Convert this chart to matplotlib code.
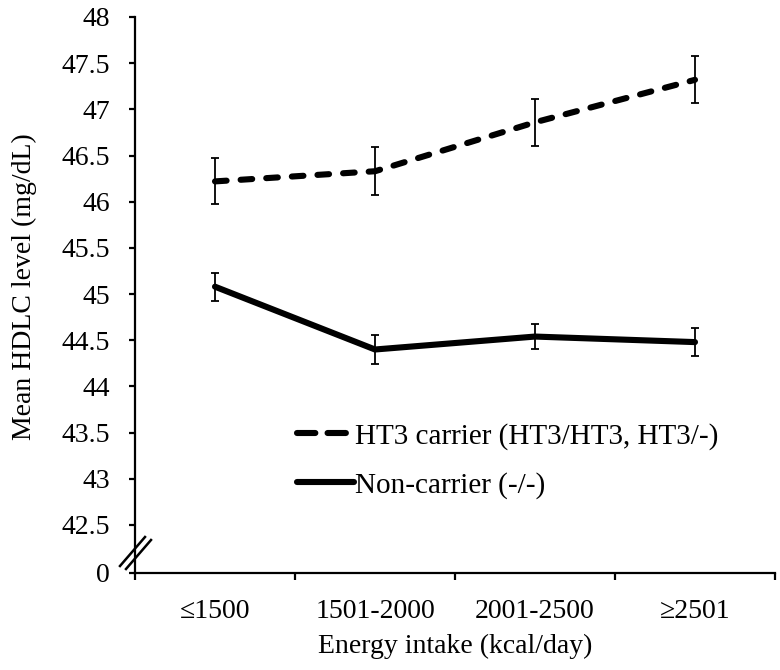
import matplotlib
matplotlib.use("Agg")
import matplotlib.pyplot as plt
from matplotlib.lines import Line2D
import numpy as np

categories = ["\u22641500", "1501-2000", "2001-2500", "\u22652501"]
ht3_mean = [46.22, 46.33, 46.86, 47.32]
ht3_err = [0.25, 0.26, 0.255, 0.255]
non_mean = [45.08, 44.40, 44.54, 44.48]
non_err = [0.15, 0.155, 0.14, 0.15]
ytick_vals = [42.5, 43, 43.5, 44, 44.5, 45, 45.5, 46, 46.5, 47, 47.5, 48]
ytick_labels = ["42.5", "43", "43.5", "44", "44.5", "45", "45.5", "46", "46.5", "47", "47.5", "48"]
zero_pos = 41.98  # position where "0" is drawn below the axis break
legend_labels = ["HT3 carrier (HT3/HT3, HT3/-)", "Non-carrier (-/-)"]

plt.rcParams['font.family'] = ['Liberation Serif', 'DejaVu Serif']

W, H = 780, 670
fig = plt.figure(figsize=(W / 100, H / 100), dpi=100)
ax = fig.add_axes([135 / W, 1 - 573 / H, (775 - 135) / W, (573 - 17) / H])

x = np.arange(len(categories)) + 0.5

lw = 4.4
ax.errorbar(x, ht3_mean, yerr=ht3_err, color='black', lw=lw,
            linestyle=(0, (1.9, 2.3)), dash_capstyle='round',
            ecolor='black', elinewidth=1.3, capsize=3.0, capthick=1.3)
ax.errorbar(x, non_mean, yerr=non_err, color='black', lw=lw,
            linestyle='-', solid_capstyle='round', solid_joinstyle='round',
            ecolor='black', elinewidth=1.3, capsize=3.0, capthick=1.3)

ax.set_xlim(0, len(categories))
ax.set_ylim(zero_pos, 48)

ax.set_yticks([zero_pos] + ytick_vals)
ax.set_yticklabels(["0"] + ytick_labels)
ax.set_xticks(np.arange(len(categories) + 1))
ax.set_xticklabels([])
ax.set_xticks(x, minor=True)
ax.set_xticklabels(categories, minor=True)

for s in ['top', 'right']:
    ax.spines[s].set_visible(False)
for s in ['left', 'bottom']:
    ax.spines[s].set_linewidth(1.6)

ax.tick_params(axis='y', which='major', direction='out', length=4, width=1.6,
               labelsize=20, pad=14)
ax.tick_params(axis='x', which='major', direction='out', length=5, width=1.6)
ax.tick_params(axis='x', which='minor', length=0, labelsize=20, pad=19)

# axis break marks
for dx in (0, 6):
    fig.add_artist(Line2D([(120 + dx) / W, (145 + dx) / W],
                          [1 - (566 + dx * 0.5) / H, 1 - (537 + dx * 0.5) / H],
                          transform=fig.transFigure, color='black', lw=1.8))

fig.text(455 / W, 1 - 646 / H, "Energy intake (kcal/day)", ha='center', va='center', fontsize=20)
fig.text(24 / W, 1 - 287 / H, "Mean HDLC level (mg/dL)", ha='center', va='center',
         rotation=90, fontsize=20)

h_dash = Line2D([], [], color='black', lw=lw, linestyle=(0, (3.0, 2.0)),
                dash_capstyle='round')
h_solid = Line2D([], [], color='black', lw=lw, linestyle='-', solid_capstyle='round')
leg = ax.legend([h_dash, h_solid], legend_labels, loc='upper left', frameon=False,
                bbox_to_anchor=(297 / W, 1 - 423 / H), bbox_transform=fig.transFigure,
                fontsize=21, handlelength=1.95, handletextpad=0.05,
                labelspacing=0.75, borderpad=0, borderaxespad=0)

fig.savefig("out.png", dpi=100)
